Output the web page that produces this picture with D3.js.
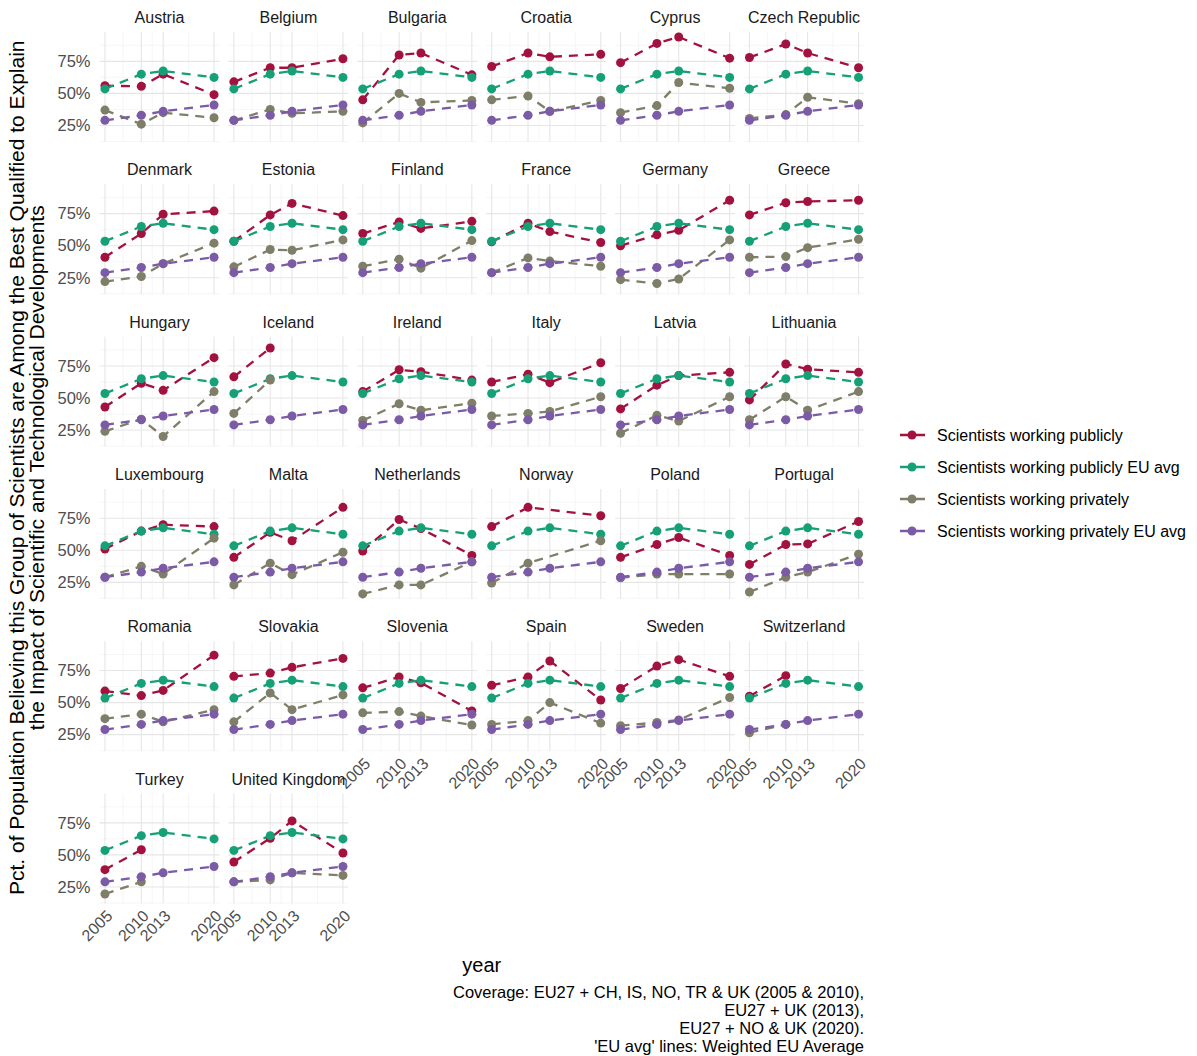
<!DOCTYPE html>
<meta charset="utf-8">

<head>
    <meta charset="utf-8">
    <script src="https://d3js.org/d3.v7.min.js"></script>
    <style>
        body { margin: 0; background: #fff; }
        text { font-family: "Liberation Sans", Arial, sans-serif; }
    </style>
</head>

<body>
    <svg width="1197" height="1056"></svg>

    <script>
        // facet order (facet_wrap, 6 columns)
        var countries = ["Austria", "Belgium", "Bulgaria", "Croatia", "Cyprus", "Czech Republic",
            "Denmark", "Estonia", "Finland", "France", "Germany", "Greece",
            "Hungary", "Iceland", "Ireland", "Italy", "Latvia", "Lithuania",
            "Luxembourg", "Malta", "Netherlands", "Norway", "Poland", "Portugal",
            "Romania", "Slovakia", "Slovenia", "Spain", "Sweden", "Switzerland",
            "Turkey", "United Kingdom"];

        var years = [2005, 2010, 2013, 2020];
        var yTicks = [25, 50, 75];

        // % per country, values for 2005, 2010, 2013, 2020 (null = not surveyed)
        var publicly = [
            [56, 55.5, 65, 49], [59, 70, 70, 77], [45, 80, 81.5, 64.5], [71, 81.5, 78.5, 80.5],
            [74, 89, 94, 77.5], [78, 88.5, 81.5, 70],
            [41, 59.5, 74.5, 77], [53.5, 74, 83, 73.5], [59.5, 68.5, 63.5, 69], [53, 67.5, 61, 52.5],
            [50, 58.5, 62, 85.5], [74, 83.5, 84.5, 85.5],
            [43, 61.5, 56, 81.5], [66.5, 89, null, null], [55, 72, 70.5, 64], [62.5, 68.5, 62, 77.5],
            [41.5, 60, 67.5, 70], [48.5, 76.5, 72.5, 70],
            [51, 65, 70, 68.5], [44.5, 64, 57.5, 83.5], [49.5, 74, 67, 46], [68.5, 83.5, null, 77],
            [44.5, 54.5, 60, 46], [39, 54.5, 55, 72.5],
            [59, 55.5, 59.5, 87], [70.5, 73, 77.5, 84.5], [61.5, 70, 65.5, 43.5], [63.5, 70, 82.5, 52],
            [61, 78.5, 83.5, 70.5], [55, 71, null, null],
            [38.5, 54, null, null], [44.5, 63, 76.5, 51.5]
        ];

        var privately = [
            [37, 26, 35, 31], [29, 37.5, 34.5, 36], [27, 50, 43, 44.5], [45, 48, 36, 44.5],
            [35, 40.5, 58.5, 54], [30.5, 33.5, 47, 42],
            [22, 26, 36, 52], [33.5, 47, 46.5, 54.5], [34, 39.5, 32.5, 54], [29, 40.5, 38, 34],
            [23.5, 20.5, 24, 54.5], [41, 41.5, 48.5, 55],
            [24, 33.5, 20, 55], [38, 64, null, null], [32.5, 45.5, 40.5, 46], [36, 38, 39.5, 51],
            [22.5, 36.5, 32, 51], [33, 51, 40.5, 55],
            [29, 37.5, 31.5, 59.5], [23, 40, 31, 48.5], [16, 23, 23, 41], [24.5, 40, null, 57.5],
            [28.5, 31.5, 31.5, 31.5], [17.5, 29, 33, 47],
            [37.5, 41, 35, 44.5], [35, 57.5, 44.5, 56], [42, 43, 39.5, 32.5], [33, 36, 50, 34],
            [32, 34.5, 36.5, 54], [26.5, 33, null, null],
            [19.5, 29, null, null], [29, 30.5, 36, 34]
        ];

        // weighted EU averages (same in every panel)
        var publiclyEU = [53.5, 65, 67.5, 62.5];
        var privatelyEU = [29, 33, 36, 41];

        var seriesNames = ["Scientists working publicly", "Scientists working publicly EU avg",
            "Scientists working privately", "Scientists working privately EU avg"];
        var seriesColors = ["#a3123f", "#16a077", "#7f7e68", "#7b5aa6"];

        var captionLines = ["Coverage: EU27 + CH, IS, NO, TR & UK (2005 & 2010),",
            "EU27 + UK (2013),", "EU27 + NO & UK (2020).", "'EU avg' lines: Weighted EU Average"];

        var svg = d3.select("svg");

        var panelW = 120, panelH = 110;
        var left0 = 99.5, top0 = 32;
        var colStep = 128.9, rowStep = 152.3, nCol = 6;

        // scales (ggplot-style 5% expansion)
        var allVals = publicly.flat().concat(privately.flat(), publiclyEU, privatelyEU)
            .filter(function (v) { return v != null; });
        var ext = d3.extent(allVals);
        var pad = (ext[1] - ext[0]) * 0.05;
        var x = d3.scaleLinear().domain([2005 - 0.75, 2020 + 0.75]).range([0, panelW]);
        var y = d3.scaleLinear().domain([ext[0] - pad, ext[1] + pad]).range([panelH, 0]);

        var xMinor = d3.pairs(years).map(function (p) { return (p[0] + p[1]) / 2; });
        var yMinor = [12.5, 37.5, 62.5, 87.5].filter(function (v) {
            return v >= y.domain()[0] && v <= y.domain()[1];
        });

        var line = d3.line()
            .x(function (d) { return x(d.year); })
            .y(function (d) { return y(d.v); });

        countries.forEach(function (country, i) {
            var col = i % nCol, row = Math.floor(i / nCol);
            var g = svg.append("g")
                .attr("transform", "translate(" + (left0 + col * colStep) + "," + (top0 + row * rowStep) + ")");

            // grid
            g.selectAll(".xminor").data(xMinor).enter().append("line")
                .attr("x1", function (d) { return x(d); }).attr("x2", function (d) { return x(d); })
                .attr("y1", 0).attr("y2", panelH)
                .attr("stroke", "#f0f0f0").attr("stroke-width", 0.6);
            g.selectAll(".yminor").data(yMinor).enter().append("line")
                .attr("y1", function (d) { return y(d); }).attr("y2", function (d) { return y(d); })
                .attr("x1", 0).attr("x2", panelW)
                .attr("stroke", "#f0f0f0").attr("stroke-width", 0.6);
            g.selectAll(".xmajor").data(years).enter().append("line")
                .attr("x1", function (d) { return x(d); }).attr("x2", function (d) { return x(d); })
                .attr("y1", 0).attr("y2", panelH)
                .attr("stroke", "#e6e6e6").attr("stroke-width", 1.1);
            g.selectAll(".ymajor").data(yTicks).enter().append("line")
                .attr("y1", function (d) { return y(d); }).attr("y2", function (d) { return y(d); })
                .attr("x1", 0).attr("x2", panelW)
                .attr("stroke", "#e6e6e6").attr("stroke-width", 1.1);

            // strip title
            g.append("text")
                .attr("x", panelW / 2).attr("y", -9)
                .attr("text-anchor", "middle")
                .style("font-size", "16px").style("fill", "#1a1a1a")
                .text(country);

            var series = [publicly[i], publiclyEU, privately[i], privatelyEU].map(function (vals, k) {
                return {
                    color: seriesColors[k],
                    pts: years.map(function (yr, j) { return { year: yr, v: vals[j] }; })
                        .filter(function (d) { return d.v != null; })
                };
            });

            // lines
            series.forEach(function (s) {
                g.append("path")
                    .attr("d", line(s.pts))
                    .attr("fill", "none")
                    .attr("stroke", s.color)
                    .attr("stroke-width", 2.3)
                    .attr("stroke-dasharray", "9,7");
            });
            // points
            series.forEach(function (s) {
                g.selectAll(null).data(s.pts).enter().append("circle")
                    .attr("cx", function (d) { return x(d.year); })
                    .attr("cy", function (d) { return y(d.v); })
                    .attr("r", 4.5)
                    .attr("fill", s.color);
            });

            // y axis labels only in first column
            if (col === 0) {
                g.selectAll(".ylab").data(yTicks).enter().append("text")
                    .attr("x", -9).attr("y", function (d) { return y(d); })
                    .attr("dy", "0.35em")
                    .attr("text-anchor", "end")
                    .style("font-size", "16.5px").style("fill", "#4d4d4d")
                    .text(function (d) { return d + "%"; });
            }

            // x axis labels on the bottom panel of each column
            if (i + nCol >= countries.length) {
                g.selectAll(".xlab").data(years).enter().append("text")
                    .attr("transform", function (d) { return "translate(" + x(d) + "," + (panelH + 5) + ") rotate(-45)"; })
                    .attr("dy", "0.75em")
                    .attr("text-anchor", "end")
                    .style("font-size", "16px").style("fill", "#4d4d4d")
                    .text(function (d) { return d; });
            }
        });

        // y axis title (two lines)
        var midY = top0 + (5 * rowStep + panelH) / 2;
        var ytitle = svg.append("text")
            .attr("transform", "translate(24," + midY + ") rotate(-90)")
            .attr("text-anchor", "middle")
            .style("font-size", "21px").style("fill", "#000");
        ytitle.append("tspan").attr("x", 0).attr("y", 0)
            .text("Pct. of Population Believing this Group of Scientists are Among the Best Qualified to Explain");
        ytitle.append("tspan").attr("x", 0).attr("y", 20)
            .text("the Impact of Scientific and Technological Developments");

        // x axis title
        var panelsRight = left0 + 5 * colStep + panelW;
        svg.append("text")
            .attr("x", (left0 + panelsRight) / 2).attr("y", 972)
            .attr("text-anchor", "middle")
            .style("font-size", "20px").style("fill", "#000")
            .text("year");

        // caption
        svg.selectAll(".caption").data(captionLines).enter().append("text")
            .attr("x", panelsRight).attr("y", function (d, i) { return 998 + i * 18; })
            .attr("text-anchor", "end")
            .style("font-size", "16.5px").style("fill", "#000")
            .text(function (d) { return d; });

        // legend
        var legend = svg.append("g").attr("transform", "translate(897,435)");
        seriesNames.forEach(function (name, k) {
            var lg = legend.append("g").attr("transform", "translate(0," + (k * 32) + ")");
            lg.append("line")
                .attr("x1", 1).attr("x2", 30).attr("y1", 0).attr("y2", 0)
                .attr("stroke", seriesColors[k]).attr("stroke-width", 2.3)
                .attr("stroke-dasharray", "9,7").attr("stroke-dashoffset", -2);
            lg.append("circle").attr("cx", 15).attr("cy", 0).attr("r", 4.5).attr("fill", seriesColors[k]);
            lg.append("text")
                .attr("x", 40).attr("y", 0).attr("dy", "0.35em")
                .style("font-size", "16px").style("fill", "#000")
                .text(name);
        });
    </script>
</body>
